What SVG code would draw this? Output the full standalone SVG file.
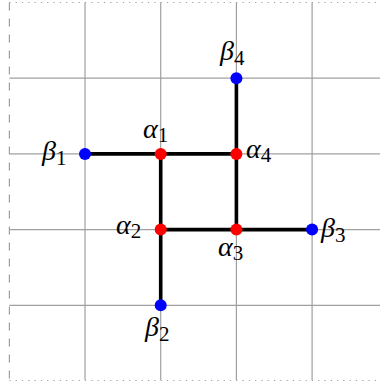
<svg xmlns="http://www.w3.org/2000/svg" width="380" height="382" viewBox="0 0 380 382">
<style>
.grid{stroke:#a0a0a0;stroke-width:1.2;fill:none}
.border{stroke:#a0a0a0;stroke-width:1.2;fill:none}
.edge{stroke:#000;stroke-width:3.6;fill:none;stroke-linecap:butt}
.a{fill:#ff0000}
.b{fill:#0000ff}
</style>
<rect width="380" height="382" fill="#fff"/>
<g id="grid">
<line class="grid" x1="85" y1="2.5" x2="85" y2="380"/>
<line class="grid" x1="160.7" y1="2.5" x2="160.7" y2="380"/>
<line class="grid" x1="236.4" y1="2.5" x2="236.4" y2="380"/>
<line class="grid" x1="312.1" y1="2.5" x2="312.1" y2="380"/>
<line class="grid" x1="9.4" y1="78.2" x2="380" y2="78.2"/>
<line class="grid" x1="9.4" y1="153.9" x2="380" y2="153.9"/>
<line class="grid" x1="9.4" y1="229.6" x2="380" y2="229.6"/>
<line class="grid" x1="9.4" y1="305.3" x2="380" y2="305.3"/>
<line class="border" x1="9.4" y1="2.5" x2="380" y2="2.5" stroke-dasharray="1.2 5.1"/>
<line class="border" x1="9.4" y1="380.5" x2="380" y2="380.5" stroke-dasharray="1.2 5.1"/>
<line class="border" x1="9.4" y1="2.5" x2="9.4" y2="380.5" stroke-dasharray="8 8"/>
</g>
<g id="connectors">
<line class="edge" x1="85" y1="153.9" x2="236.4" y2="153.9"/>
<line class="edge" x1="160.7" y1="229.6" x2="312.1" y2="229.6"/>
<line class="edge" x1="160.7" y1="153.9" x2="160.7" y2="305.3"/>
<line class="edge" x1="236.4" y1="78.2" x2="236.4" y2="229.6"/>
</g>
<g font-family="Liberation Serif, DejaVu Serif, serif" fill="#000">
<g id="alpha1"><circle class="a" cx="160.7" cy="153.9" r="6"/><text x="143" y="138"><tspan font-style="italic" font-size="28">α</tspan><tspan font-size="21" dy="4">1</tspan></text></g>
<g id="alpha2"><circle class="a" cx="160.7" cy="229.6" r="6"/><text x="116" y="234"><tspan font-style="italic" font-size="28">α</tspan><tspan font-size="21" dy="4">2</tspan></text></g>
<g id="alpha3"><circle class="a" cx="236.4" cy="229.6" r="6"/><text x="218" y="256"><tspan font-style="italic" font-size="28">α</tspan><tspan font-size="21" dy="4">3</tspan></text></g>
<g id="alpha4"><circle class="a" cx="236.4" cy="153.9" r="6"/><text x="246" y="158"><tspan font-style="italic" font-size="28">α</tspan><tspan font-size="21" dy="4">4</tspan></text></g>
<g id="beta1"><circle class="b" cx="85" cy="153.9" r="6"/><text x="42" y="160"><tspan font-style="italic" font-size="28">β</tspan><tspan font-size="21" dy="5">1</tspan></text></g>
<g id="beta2"><circle class="b" cx="160.7" cy="305.3" r="6"/><text x="145" y="336"><tspan font-style="italic" font-size="28">β</tspan><tspan font-size="21" dy="5">2</tspan></text></g>
<g id="beta3"><circle class="b" cx="312.1" cy="229.6" r="6"/><text x="321" y="237"><tspan font-style="italic" font-size="28">β</tspan><tspan font-size="21" dy="5">3</tspan></text></g>
<g id="beta4"><circle class="b" cx="236.4" cy="78.2" r="6"/><text x="220" y="60"><tspan font-style="italic" font-size="28">β</tspan><tspan font-size="21" dy="5">4</tspan></text></g>
</g>
</svg>
